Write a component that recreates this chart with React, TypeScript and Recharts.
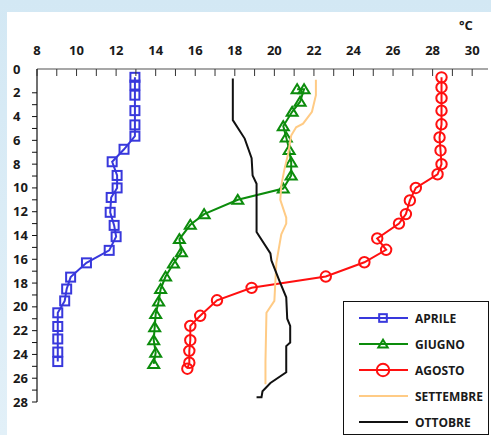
import React from 'react';
import { ScatterChart, Scatter, XAxis, YAxis } from 'recharts';

// temperature (°C) and depth (m)
const aprileT = [12.95, 12.95, 12.95, 12.95, 12.95, 12.95, 12.4, 11.8, 12.05, 12.05, 11.75, 11.7, 11.9, 12.0, 11.65, 10.5, 9.7, 9.5, 9.4, 9.05, 9.05, 9.05, 9.05, 9.05];
const aprileD = [0.7, 1.35, 2.2, 3.5, 4.7, 5.65, 6.75, 7.8, 8.95, 10.0, 10.8, 12.05, 13.15, 14.1, 15.25, 16.3, 17.5, 18.5, 19.5, 20.5, 21.65, 22.7, 23.8, 24.6];

const giugnoT = [21.15, 21.5, 21.3, 20.9, 20.45, 20.6, 20.75, 20.85, 20.85, 20.45, 18.15, 16.45, 15.75, 15.2, 15.3, 14.9, 14.5, 14.25, 14.15, 14.0, 13.95, 13.9, 14.0, 13.9];
const giugnoD = [1.7, 1.7, 2.75, 3.6, 4.8, 5.75, 6.8, 7.85, 8.95, 10.05, 11.0, 12.2, 13.1, 14.3, 15.4, 16.35, 17.45, 18.5, 19.55, 20.6, 21.7, 22.8, 23.85, 24.8];

const agostoT = [28.45, 28.45, 28.45, 28.45, 28.45, 28.35, 28.4, 28.45, 28.25, 27.15, 26.85, 26.65, 26.3, 25.2, 25.65, 24.55, 22.6, 18.85, 17.1, 16.25, 15.75, 15.75, 15.7, 15.7, 15.6];
const agostoD = [0.7, 1.55, 2.45, 3.5, 4.65, 5.75, 6.85, 8.0, 8.85, 10.0, 11.05, 12.2, 13.0, 14.25, 15.2, 16.25, 17.45, 18.4, 19.45, 20.75, 21.6, 22.8, 23.7, 24.7, 25.2];

const settembreT = [22.1, 22.1, 21.9, 21.45, 21.1, 20.85, 20.7, 20.5, 20.35, 20.3, 20.6, 20.6, 20.35, 20.1, 20.0, 19.6, 19.55, 19.55];
const settembreD = [0.9, 2.2, 3.6, 4.6, 4.9, 5.6, 7.1, 8.5, 9.8, 11.0, 12.5, 13.0, 13.9, 16.3, 19.5, 20.5, 24.6, 26.5];

const ottobreT = [17.9, 17.9, 18.5, 18.85, 18.9, 19.1, 19.1, 19.8, 19.85, 20.25, 20.6, 20.65, 20.8, 20.8, 20.6, 20.6, 19.8, 19.4, 19.35, 19.1];
const ottobreD = [0.8, 4.3, 5.85, 7.5, 8.95, 9.65, 13.7, 15.5, 16.1, 17.8, 19.2, 21.0, 21.6, 23.0, 23.3, 25.5, 26.4, 27.1, 27.6, 27.6];

const tempTicks = [8, 9, 10, 11, 12, 13, 14, 15, 16, 17, 18, 19, 20, 21, 22, 23, 24, 25, 26, 27, 28, 29, 30];
const depthTicks = [0, 1, 2, 3, 4, 5, 6, 7, 8, 9, 10, 11, 12, 13, 14, 15, 16, 17, 18, 19, 20, 21, 22, 23, 24, 25, 26, 27, 28];

const FONT = '"Open Sans", "DejaVu Sans", sans-serif';

const toPoints = (t: number[], d: number[]) => t.map((v, i) => ({ t: v, d: d[i] }));

const series = [
  { name: 'APRILE', color: '#3838dc', marker: 'square', data: toPoints(aprileT, aprileD) },
  { name: 'GIUGNO', color: '#0c8c0c', marker: 'triangle', data: toPoints(giugnoT, giugnoD) },
  { name: 'AGOSTO', color: '#ff1010', marker: 'circle', data: toPoints(agostoT, agostoD) },
  { name: 'SETTEMBRE', color: '#ffcb85', marker: 'none', data: toPoints(settembreT, settembreD) },
  { name: 'OTTOBRE', color: '#111111', marker: 'none', data: toPoints(ottobreT, ottobreD) },
];

const Marker = ({ kind, cx, cy, color, s = 1 }: any) => {
  if (kind === 'square') {
    const h = 4.5 * s;
    return <rect x={cx - h} y={cy - h} width={h * 2} height={h * 2} fill="none" stroke={color} strokeWidth={2} />;
  }
  if (kind === 'triangle') {
    const w = 5.5 * s;
    const h = 9 * s;
    return (
      <polygon
        points={`${cx},${cy - h * 0.55} ${cx - w},${cy + h * 0.45} ${cx + w},${cy + h * 0.45}`}
        fill="none"
        stroke={color}
        strokeWidth={2}
      />
    );
  }
  if (kind === 'circle') {
    return <circle cx={cx} cy={cy} r={5.2 * s} fill="none" stroke={color} strokeWidth={2} />;
  }
  return <g />;
};

// ticks point down into the plot, labels only on even degrees
const TempTick = ({ x, y, payload }: any) => (
  <g>
    <line x1={x} y1={y} x2={x} y2={y + 7} stroke="#333" strokeWidth={1} />
    {payload.value % 2 === 0 && (
      <text x={x} y={y - 14} textAnchor="middle" fontFamily={FONT} fontWeight={700} fontSize={13} fill="#1a1a1a">
        {payload.value}
      </text>
    )}
  </g>
);

const DepthTick = ({ x, y, payload }: any) => (
  <g>
    {payload.value >= 2 && <line x1={x - 5} y1={y} x2={x} y2={y} stroke="#111" strokeWidth={1} />}
    {payload.value % 2 === 0 && (
      <text x={x - 24} y={y + 4.5} textAnchor="start" fontFamily={FONT} fontWeight={700} fontSize={13} fill="#1a1a1a">
        {payload.value}
      </text>
    )}
  </g>
);

const LegendBox = () => (
  <div
    style={{
      position: 'absolute',
      left: 343,
      top: 301,
      width: 144,
      height: 132,
      border: '1px solid #111',
      background: '#fff',
    }}
  >
    <svg width={144} height={132}>
      {series.map((s, i) => {
        const y = 16 + i * 26;
        return (
          <g key={s.name}>
            <line x1={15} y1={y} x2={64} y2={y} stroke={s.color} strokeWidth={2} />
            <Marker kind={s.marker} cx={39} cy={y} color={s.color} s={s.marker === 'circle' ? 1.2 : 0.85} />
            <text x={71} y={y + 4.5} fontFamily={FONT} fontWeight={700} fontSize={12} fill="#1a1a1a">
              {s.name}
            </text>
          </g>
        );
      })}
    </svg>
  </div>
);

export default function App() {
  return (
    <div
      style={{
        position: 'absolute',
        left: 0,
        top: 0,
        width: 491,
        height: 435,
        background: 'linear-gradient(#d3e8f4, #e2f0f8)',
        overflow: 'hidden',
      }}
    >
      <div style={{ position: 'absolute', left: 7, top: 12, right: 0, bottom: 0, background: '#fff' }} />
      <div style={{ position: 'absolute', left: 0, top: 0 }}>
        <ScatterChart width={491} height={435} margin={{ top: 0, right: 3, bottom: 33, left: 0 }}>
          <XAxis
            type="number"
            dataKey="t"
            orientation="top"
            domain={[8, 30.8]}
            ticks={tempTicks}
            height={69}
            tickSize={0}
            tickMargin={0}
            tickLine={false}
            axisLine={{ stroke: '#8a8a8a', strokeWidth: 1.5 }}
            tick={<TempTick />}
            interval={0}
            allowDataOverflow
          />
          <YAxis
            type="number"
            dataKey="d"
            domain={[0, 28]}
            reversed
            ticks={depthTicks}
            width={37}
            tickSize={0}
            tickMargin={0}
            tickLine={false}
            axisLine={{ stroke: '#111', strokeWidth: 1.2 }}
            tick={<DepthTick />}
            interval={0}
            allowDataOverflow
          />
          {series.map((s) => (
            <Scatter
              key={s.name}
              name={s.name}
              data={s.data}
              line={{ stroke: s.color, strokeWidth: 2 }}
              lineType="joint"
              shape={(p: any) => <Marker kind={s.marker} cx={p.cx} cy={p.cy} color={s.color} />}
              isAnimationActive={false}
            />
          ))}
        </ScatterChart>
      </div>
      <div
        style={{
          position: 'absolute',
          left: 459,
          top: 16,
          fontFamily: FONT,
          fontWeight: 700,
          fontSize: 13,
          color: '#1a1a1a',
        }}
      >
        °C
      </div>
      <LegendBox />
    </div>
  );
}
